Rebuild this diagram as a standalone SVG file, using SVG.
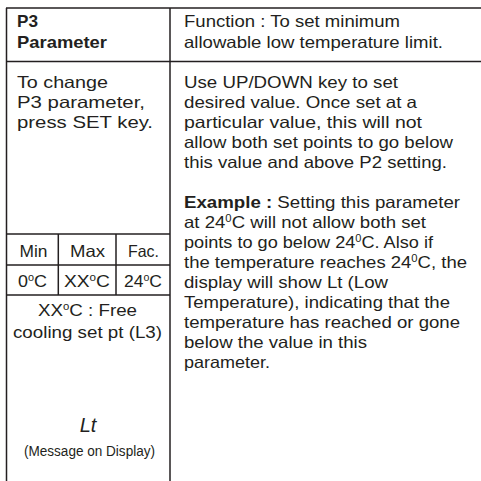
<svg xmlns="http://www.w3.org/2000/svg" width="481" height="481" viewBox="0 0 481 481">
<style>
text{font-family:"Liberation Sans",Arial,sans-serif;font-size:16.5px;fill:#231f20}
.b{font-weight:bold}
.c{text-anchor:middle}
.sm{font-size:14px}
.lt{font-size:20px;font-style:italic}
line{stroke:#231f20;stroke-width:1.5}
</style>
<rect width="481" height="481" fill="#fff"/>
<g id="grid">
<line x1="6" y1="8" x2="481" y2="8"/>
<line x1="6" y1="61.5" x2="481" y2="61.5"/>
<line x1="6.5" y1="8" x2="6.5" y2="481"/>
<line x1="170" y1="8" x2="170" y2="481"/>
<line x1="6" y1="234" x2="170" y2="234"/>
<line x1="6" y1="265" x2="170" y2="265"/>
<line x1="6" y1="295" x2="170" y2="295"/>
<line x1="58.3" y1="234" x2="58.3" y2="295"/>
<line x1="116" y1="234" x2="116" y2="295"/>
</g>
<g id="header-left">
<text class="b" x="17" y="27" textLength="21" lengthAdjust="spacingAndGlyphs">P3</text>
<text class="b" x="17" y="48" textLength="90" lengthAdjust="spacingAndGlyphs">Parameter</text>
</g>
<g id="header-right">
<text x="184" y="27" textLength="216" lengthAdjust="spacingAndGlyphs">Function : To set minimum</text>
<text x="184" y="48" textLength="259" lengthAdjust="spacingAndGlyphs">allowable low temperature limit.</text>
</g>
<g id="change">
<text x="17" y="88" textLength="91" lengthAdjust="spacingAndGlyphs">To change</text>
<text x="17" y="108" textLength="128" lengthAdjust="spacingAndGlyphs">P3 parameter,</text>
<text x="17" y="128" textLength="136" lengthAdjust="spacingAndGlyphs">press SET key.</text>
</g>
<g id="desc">
<text x="184" y="88" textLength="214" lengthAdjust="spacingAndGlyphs">Use UP/DOWN key to set</text>
<text x="184" y="108" textLength="233" lengthAdjust="spacingAndGlyphs">desired value. Once set at a</text>
<text x="184" y="128" textLength="238" lengthAdjust="spacingAndGlyphs">particular value, this will not</text>
<text x="184" y="148" textLength="269" lengthAdjust="spacingAndGlyphs">allow both set points to go below</text>
<text x="184" y="168" textLength="263" lengthAdjust="spacingAndGlyphs">this value and above P2 setting.</text>
<text x="184" y="208" textLength="276" lengthAdjust="spacingAndGlyphs"><tspan class="b">Example :</tspan> Setting this parameter</text>
<text x="184" y="228" textLength="242" lengthAdjust="spacingAndGlyphs">at 24<tspan font-size="10" dy="-6">0</tspan><tspan dy="6">C will not allow both set</tspan></text>
<text x="184" y="248" textLength="249" lengthAdjust="spacingAndGlyphs">points to go below 24<tspan font-size="10" dy="-6">0</tspan><tspan dy="6">C. Also if</tspan></text>
<text x="184" y="268" textLength="283" lengthAdjust="spacingAndGlyphs">the temperature reaches 24<tspan font-size="10" dy="-6">0</tspan><tspan dy="6">C, the</tspan></text>
<text x="184" y="288" textLength="204" lengthAdjust="spacingAndGlyphs">display will show Lt (Low</text>
<text x="184" y="308" textLength="266" lengthAdjust="spacingAndGlyphs">Temperature), indicating that the</text>
<text x="184" y="328" textLength="276" lengthAdjust="spacingAndGlyphs">temperature has reached or gone</text>
<text x="184" y="348" textLength="183" lengthAdjust="spacingAndGlyphs">below the value in this</text>
<text x="184" y="368" textLength="86" lengthAdjust="spacingAndGlyphs">parameter.</text>
</g>
<g id="limits">
<text class="c" x="33.5" y="257" textLength="28" lengthAdjust="spacingAndGlyphs">Min</text>
<text class="c" x="87.5" y="257" textLength="35" lengthAdjust="spacingAndGlyphs">Max</text>
<text class="c" x="143.5" y="257" textLength="31" lengthAdjust="spacingAndGlyphs">Fac.</text>
<text class="c" x="32.5" y="287" textLength="29" lengthAdjust="spacingAndGlyphs">0<tspan font-size="10" dy="-6">o</tspan><tspan dy="6">C</tspan></text>
<text class="c" x="87" y="287" textLength="46" lengthAdjust="spacingAndGlyphs">XX<tspan font-size="10" dy="-6">o</tspan><tspan dy="6">C</tspan></text>
<text class="c" x="143" y="287" textLength="38" lengthAdjust="spacingAndGlyphs">24<tspan font-size="10" dy="-6">o</tspan><tspan dy="6">C</tspan></text>
</g>
<g id="note">
<text class="c" x="87.5" y="316" textLength="99" lengthAdjust="spacingAndGlyphs">XX<tspan font-size="10" dy="-6">o</tspan><tspan dy="6">C : Free</tspan></text>
<text class="c" x="87.5" y="338" textLength="149" lengthAdjust="spacingAndGlyphs">cooling set pt (L3)</text>
</g>
<g id="display">
<text class="c lt" x="88" y="432">Lt</text>
<text class="c sm" x="89.5" y="456" textLength="131" lengthAdjust="spacingAndGlyphs">(Message on Display)</text>
</g>
</svg>
